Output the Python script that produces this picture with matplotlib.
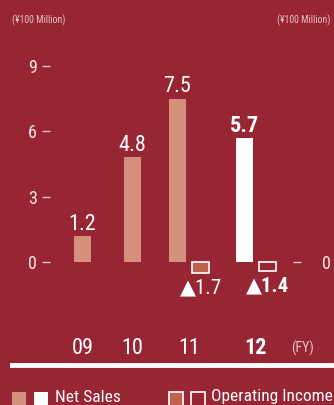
import matplotlib
matplotlib.use("Agg")
import matplotlib.pyplot as plt
from matplotlib.patches import Rectangle

plt.rcParams['font.family'] = ['Roboto Condensed', 'DejaVu Sans']

# data
years = ['09', '10', '11', '12']
net_sales = [1.2, 4.8, 7.5, 5.7]
op_years = ['11', '12']
op_income = [-1.7, -1.4]
left_ticks = [0, 3, 6, 9]

# layout (pixel positions, figure is 334x405)
W, H = 334, 405
net_x = [82.5, 132.5, 177.5, 244.5]
op_x = [200.5, 267.5]
bar_w = 17
ax_left, ax_right = 50, 293
zero_px = 262
px_per_unit = 196 / 9.0
op_px_per_unit = 6.3

bg = '#982533'
salmon = '#D4907D'
dark_salmon = '#C0604F'
pale = '#E8C4C4'

fig = plt.figure(figsize=(W / 100, H / 100), dpi=100, facecolor=bg)
ax = fig.add_axes([ax_left / W, 0, (ax_right - ax_left) / W, 1])
ax.set_facecolor('none')
ax.set_xlim(ax_left, ax_right)
ax.set_ylim(-(H - zero_px) / px_per_unit, zero_px / px_per_unit)
for s in ax.spines.values():
    s.set_visible(False)
ax.set_xticks([])
ax.set_yticks(left_ticks)
ax.set_yticklabels([str(t) for t in left_ticks])
ax.tick_params(axis='y', length=5.8, width=1.0, color=pale, labelcolor='#F4E6E6',
               labelsize=13, pad=3.5)

ax2 = ax.twinx()
ax2.set_ylim(-(H - zero_px) / op_px_per_unit, zero_px / op_px_per_unit)
for s in ax2.spines.values():
    s.set_visible(False)
ax2.set_yticks([0])
ax2.set_yticklabels(['0'])
ax2.tick_params(axis='y', length=5.8, width=1.0, color=pale, labelcolor='#F4E6E6',
                labelsize=13, pad=15)

net_colors = [salmon, salmon, salmon, 'white']
ax.bar(net_x, net_sales, width=bar_w, color=net_colors, linewidth=0)
for i, (x, v) in enumerate(zip(net_x, net_sales)):
    ax.annotate(f'{v:.1f}', (x, v), xytext=(0, 4.5), textcoords='offset points',
                ha='center', va='baseline', color='white', fontsize=16,
                fontweight='bold' if years[i] == '12' else 'normal')

op_fc = [dark_salmon, bg]
ax2.bar(op_x, op_income, width=bar_w, color=op_fc, edgecolor='white', linewidth=1.2)
for i, (x, v) in enumerate(zip(op_x, op_income)):
    ax2.annotate(f'▲{abs(v):.1f}', (x, v), xytext=(0, -4), textcoords='offset points',
                 ha='center', va='top', color='white', fontsize=15,
                 fontweight='bold' if op_years[i] == '12' else 'normal')

# year labels
for i, y in enumerate(years):
    if y in op_years:
        cx = (net_x[i] + op_x[op_years.index(y)]) / 2
    else:
        cx = net_x[i]
    fig.text(cx / W, 1 - 348 / H, y, ha='center', va='center', color='white',
             fontsize=16, fontweight='bold' if y == '12' else 'normal')
fig.text(303 / W, 1 - 348 / H, '(FY)', ha='center', va='center', color=pale, fontsize=10)

fig.text(12 / W, 1 - 20 / H, '(¥100 Million)', ha='left', va='center', color=pale, fontsize=7)
fig.text(330 / W, 1 - 20 / H, '(¥100 Million)', ha='right', va='center', color=pale, fontsize=7)

# baseline rule
fig.add_artist(plt.Line2D([12 / W, 331 / W], [1 - 365 / H, 1 - 365 / H], color='white', lw=3.5))

# legend
sq = 14
def legend_box(x, fc, ec):
    fig.add_artist(Rectangle((x / W, 1 - (392 + sq) / H), sq / W, sq / H,
                             facecolor=fc, edgecolor=ec, lw=1.2, transform=fig.transFigure))
legend_box(12, salmon, 'none')
legend_box(34, 'white', 'none')
fig.text(55 / W, 1 - 397 / H, 'Net Sales', ha='left', va='center', color='white', fontsize=12.5)
legend_box(169, dark_salmon, 'white')
legend_box(191, bg, 'white')
fig.text(211 / W, 1 - 397 / H, 'Operating Income', ha='left', va='center', color='white', fontsize=12.5)

fig.savefig('out.png', dpi=100, facecolor=bg)
